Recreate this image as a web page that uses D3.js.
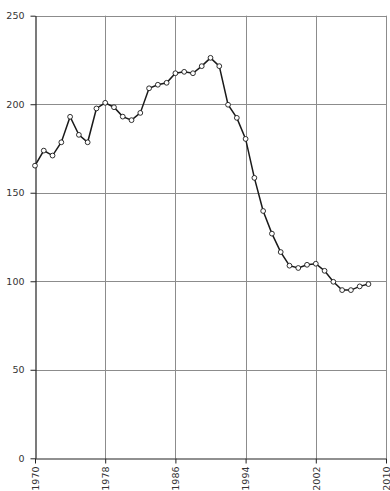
<!DOCTYPE html>
<html><head><meta charset="utf-8">
<script src="https://cdn.jsdelivr.net/npm/d3@7"></script>
<style>body{margin:0;background:#fff}svg{display:block}</style>
</head><body><svg id="c" width="390" height="491"></svg>
<script>
const years = d3.range(1970, 2009);
const values = [165.3,173.8,171.0,178.5,192.9,182.7,178.5,197.6,200.8,198.3,
  193.0,191.0,195.1,209.0,211.0,212.1,217.5,218.3,217.5,221.5,
  226.2,221.5,199.7,192.3,180.4,158.4,139.7,126.9,116.5,108.8,
  107.5,109.3,109.9,105.9,99.7,95.0,95.0,97.1,98.4];
const xTicks = [1970,1978,1986,1994,2002,2010];
const yTicks = [0,50,100,150,200,250];

const svg = d3.select("#c");
const x = d3.scaleLinear().domain([1970,2010]).range([35,386]);
const y = d3.scaleLinear().domain([0,250]).range([458.3,15.7]);

// gridlines
svg.append("g").selectAll("line").data(yTicks.slice(1)).join("line")
  .attr("x1",35).attr("x2",386).attr("y1",d=>Math.round(y(d))+0.5).attr("y2",d=>Math.round(y(d))+0.5)
  .attr("stroke","#8c8c8c").attr("stroke-width",1);
svg.append("g").selectAll("line").data(xTicks.slice(1)).join("line")
  .attr("y1",15.7).attr("y2",458.3).attr("x1",d=>Math.round(x(d))+0.5).attr("x2",d=>Math.round(x(d))+0.5)
  .attr("stroke","#8c8c8c").attr("stroke-width",1);

// axes
const yAxis = svg.append("g").attr("transform","translate(35.5,0)")
  .call(d3.axisLeft(y).tickValues(yTicks).tickSize(5).tickPadding(6).tickSizeOuter(0));
const xAxis = svg.append("g").attr("transform","translate(0,458.5)")
  .call(d3.axisBottom(x).tickValues(xTicks).tickFormat(d3.format("d")).tickSize(5).tickSizeOuter(0));
[yAxis,xAxis].forEach(a=>{
  a.select(".domain").attr("stroke","#222").attr("stroke-width",1.2);
  a.selectAll(".tick line").attr("stroke","#222");
  a.selectAll("text").attr("font-family","DejaVu Sans, Verdana, sans-serif").attr("font-size",9.5).attr("fill","#333");
});
xAxis.selectAll("text").attr("transform","rotate(-90)").attr("text-anchor","end")
  .attr("dy","0.35em").attr("x",-8).attr("y",0);

// line
const line = d3.line().x((d,i)=>x(years[i])).y(d=>y(d));
svg.append("path").datum(values).attr("d",line).attr("fill","none")
  .attr("stroke","#1a1a1a").attr("stroke-width",1.5);
svg.append("g").selectAll("circle").data(values).join("circle")
  .attr("cx",(d,i)=>x(years[i])).attr("cy",d=>y(d)).attr("r",2.4)
  .attr("fill","#fff").attr("stroke","#1a1a1a").attr("stroke-width",0.9);
</script></body></html>
